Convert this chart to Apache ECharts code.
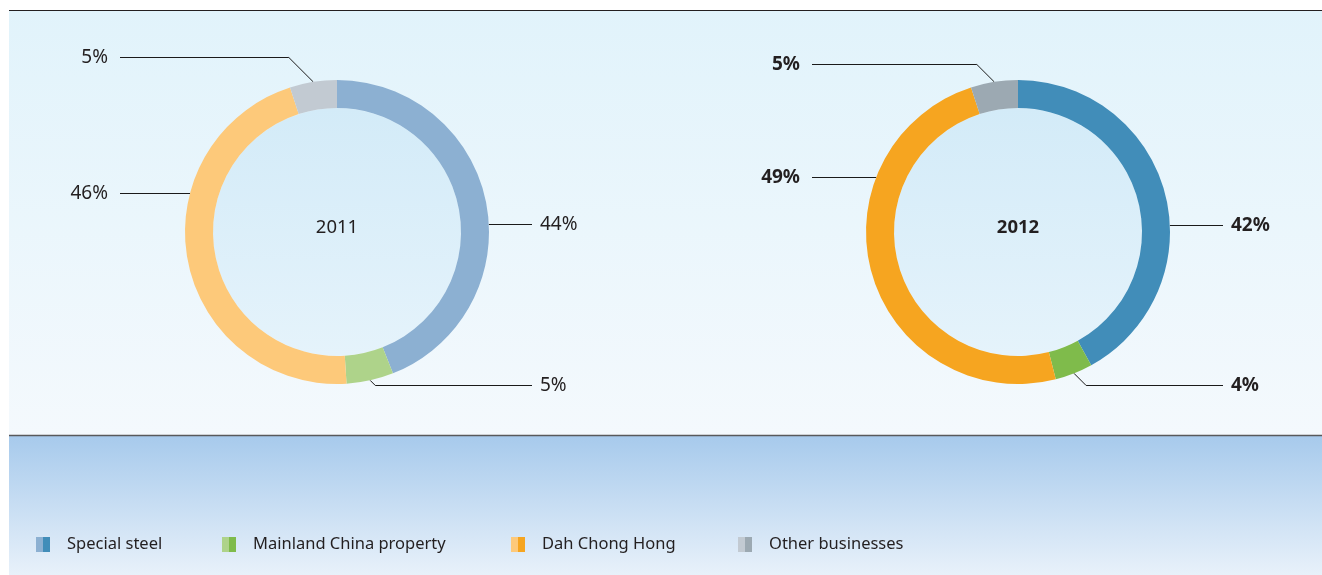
<!DOCTYPE html>
<html>
<head>
<meta charset="utf-8">
<title>Segment shares 2011 / 2012</title>
<script src="https://cdn.jsdelivr.net/npm/echarts@6/dist/echarts.min.js"></script>
<style>
  html, body { margin: 0; padding: 0; background: #ffffff; }
  #chart { width: 1322px; height: 575px; }
</style>
</head>
<body>
<div id="chart"></div>
<script>
// ---- data -------------------------------------------------------------
const years = ['2011', '2012'];
const segments = ['Special steel', 'Mainland China property', 'Dah Chong Hong', 'Other businesses'];
const share2011 = [44, 5, 46, 5];
const share2012 = [42, 4, 49, 5];

// ---- styling / layout -------------------------------------------------
const LIGHT = ['#8cb0d2', '#aed38a', '#fdc97a', '#c2cad2'];   // 2011 tones
const DARK  = ['#418db9', '#7fbb4b', '#f6a520', '#9ca9b2'];   // 2012 tones
const INK = '#231f20';
const FONT = 'Noto Sans';

const PIE_CENTERS = [[337, 232], [1018, 232]];
const R_OUT = 152, R_IN = 124;
// vertical level of each value label, relative to its pie centre
const LABEL_DY = [[-8, 153, -39, -175], [-7, 153, -55, -168]];
// horizontal end of the guide lines (right side, left side), relative to centre
const LINE_REACH = [[195, -217], [205, -206]];
const LEGEND_LEFT = [36, 222, 511, 738];

const shares = [share2011, share2012];

function twoTone(a, b) {
  return {
    type: 'linear', x: 0, y: 0, x2: 1, y2: 0,
    colorStops: [
      { offset: 0, color: a }, { offset: 0.5, color: a },
      { offset: 0.5, color: b }, { offset: 1, color: b }
    ]
  };
}

// guide line + label placement for a slice
function placeLabel(s) {
  return function (p) {
    const i = p.dataIndex;
    const vals = shares[s];
    const total = vals.reduce((a, b) => a + b, 0);
    let before = 0;
    for (let k = 0; k < i; k++) before += vals[k];
    const mid = (before + vals[i] / 2) / total * Math.PI * 2;
    const [cx, cy] = PIE_CENTERS[s];
    const ax = cx + R_OUT * Math.sin(mid);
    const ay = cy - R_OUT * Math.cos(mid);
    const side = Math.sin(mid) >= 0 ? 1 : -1;
    const dy = LABEL_DY[s][i];
    const ly = cy + dy + 0.5;          // half-pixel keeps the 1px guide crisp
    const endX = cx + (side > 0 ? LINE_REACH[s][0] : LINE_REACH[s][1]);
    let pts;
    if (Math.abs(dy) < R_OUT * 0.9) {
      const sx = cx + side * Math.sqrt(R_OUT * R_OUT - dy * dy);
      pts = [[sx, ly], [sx, ly], [endX, ly]];
    } else {
      const kx = ax + side * Math.abs(ly - ay);
      pts = [[ax, ay], [kx, ly], [endX, ly]];
    }
    return {
      x: endX + (side > 0 ? 8 : -12),
      y: ly,
      align: side > 0 ? 'left' : 'right',
      verticalAlign: 'middle',
      labelLinePoints: pts
    };
  };
}

function ringSeries(s) {
  const tones = s === 0 ? LIGHT : DARK;
  return {
    type: 'pie',
    name: years[s],
    center: PIE_CENTERS[s],
    radius: [R_IN, R_OUT],
    startAngle: 90,
    clockwise: true,
    avoidLabelOverlap: false,
    emphasis: { disabled: true },
    silent: true,
    z: 3,
    itemStyle: { borderWidth: 0 },
    data: segments.map((name, i) => ({
      name, value: shares[s][i], itemStyle: { color: tones[i] }
    })),
    label: {
      show: true,
      position: 'outside',
      formatter: '{c}%',
      fontFamily: FONT,
      fontSize: 19,
      fontWeight: s === 0 ? 'normal' : 'bold',
      color: INK
    },
    labelLine: { show: true, length: 10, length2: 10, lineStyle: { color: '#1a1a1a', width: 1 } },
    labelLayout: placeLabel(s)
  };
}

function discSeries(s) {
  return {
    type: 'pie',
    name: 'disc' + years[s],
    center: PIE_CENTERS[s],
    radius: [0, R_IN],
    silent: true,
    z: 2,
    emphasis: { disabled: true },
    data: [{ name: years[s], value: 1 }],
    itemStyle: {
      color: {
        type: 'linear', x: 0, y: 0, x2: 0, y2: 1,
        colorStops: [{ offset: 0, color: '#d3ebf8' }, { offset: 1, color: '#e5f3fb' }]
      }
    },
    label: {
      show: true, position: 'center', formatter: '{b}',
      offset: [0, -4],
      fontFamily: FONT, fontSize: 18.5, color: INK,
      fontWeight: s === 0 ? 'normal' : 'bold'
    },
    labelLine: { show: false }
  };
}

const chart = echarts.init(document.getElementById('chart'), null, { renderer: 'canvas' });

chart.setOption({
  animation: false,
  backgroundColor: '#ffffff',
  graphic: [
    {
      type: 'rect', z: -10, silent: true,
      shape: { x: 9, y: 10, width: 1313, height: 425 },
      style: {
        fill: {
          type: 'linear', x: 0, y: 0, x2: 0, y2: 1,
          colorStops: [{ offset: 0, color: '#e1f3fb' }, { offset: 1, color: '#f4f9fd' }]
        }
      }
    },
    {
      type: 'rect', z: -10, silent: true,
      shape: { x: 9, y: 436, width: 1313, height: 139 },
      style: {
        fill: {
          type: 'linear', x: 0, y: 0, x2: 0, y2: 1,
          colorStops: [{ offset: 0, color: '#a7caec' }, { offset: 1, color: '#e8f1fa' }]
        }
      }
    },
    {
      type: 'line', z: -5, silent: true,
      shape: { x1: 9, y1: 10.5, x2: 1322, y2: 10.5 },
      style: { stroke: INK, lineWidth: 1.2 }
    },
    {
      type: 'line', z: -5, silent: true,
      shape: { x1: 9, y1: 435.5, x2: 1322, y2: 435.5 },
      style: { stroke: '#58595b', lineWidth: 1.5 }
    }
  ],
  legend: segments.map((name, i) => ({
    left: LEGEND_LEFT[i],
    top: 536,
    padding: 0,
    icon: 'rect',
    itemWidth: 14,
    itemHeight: 15,
    selectedMode: false,
    data: [{ name, itemStyle: { color: twoTone(LIGHT[i], DARK[i]) } }],
    textStyle: { fontFamily: FONT, fontSize: 16.5, color: INK, padding: [0, 0, 0, 12] }
  })),
  series: [discSeries(0), ringSeries(0), discSeries(1), ringSeries(1)]
});
</script>
</body>
</html>
